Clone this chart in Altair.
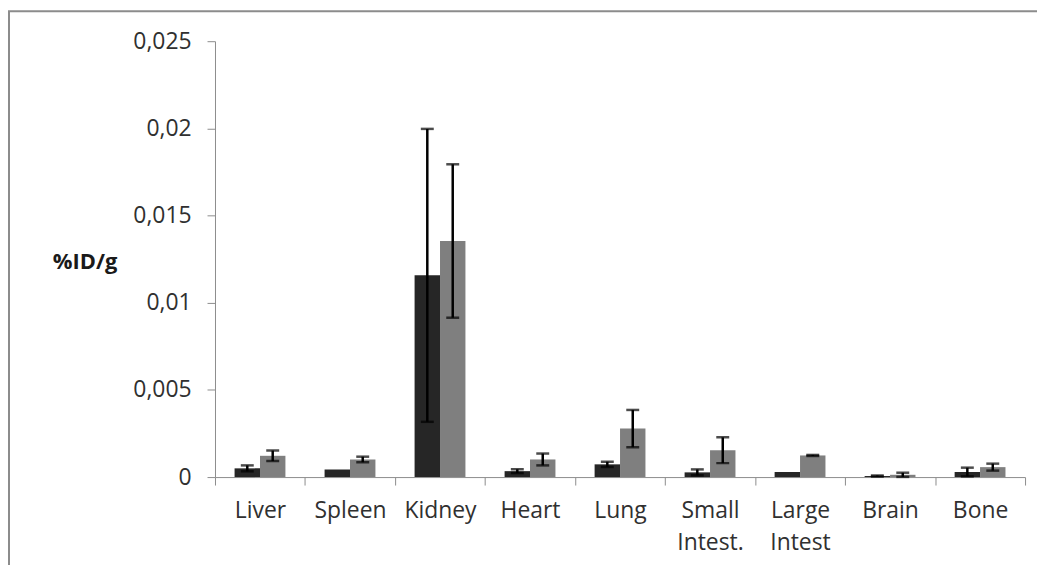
import altair as alt
import pandas as pd

organs = ["Liver", "Spleen", "Kidney", "Heart", "Lung", "Small Intest.", "Large Intest", "Brain", "Bone"]
series = ["Series 1", "Series 2"]
dark_vals = [0.00050, 0.00044, 0.01157, 0.00034, 0.00073, 0.00027, 0.00029, 0.00006, 0.00029]
dark_err = [0.00017, 0.0, 0.00840, 0.00011, 0.00015, 0.00017, 0.0, 0.00003, 0.00025]
gray_vals = [0.00122, 0.00101, 0.01354, 0.00101, 0.00278, 0.00154, 0.00124, 0.00013, 0.00057]
gray_err = [0.00030, 0.00016, 0.00440, 0.00034, 0.00107, 0.00074, 0.00003, 0.00012, 0.00020]
y_ticks = [0, 0.005, 0.01, 0.015, 0.02, 0.025]

rows = []
for i, o in enumerate(organs):
    rows.append({"organ": o, "series": series[0], "value": dark_vals[i], "err": dark_err[i]})
    rows.append({"organ": o, "series": series[1], "value": gray_vals[i], "err": gray_err[i]})
df = pd.DataFrame(rows)
df["lo"] = df["value"] - df["err"]
df["hi"] = df["value"] + df["err"]

FONT = "Open Sans"

x_enc = alt.X(
    "organ:N", sort=organs, title=None,
    scale=alt.Scale(paddingInner=0, paddingOuter=0),
    axis=alt.Axis(
        labelAngle=0, tickBand="extent", tickSize=8, tickColor="#8c8c8c",
        domainColor="#8c8c8c", labelFont=FONT, labelFontSize=23, labelColor="#303030",
        labelPadding=15, labelLineHeight=32, labelExpr="split(datum.label, ' ')",
        grid=False,
    ),
)
xoff = alt.XOffset("series:N", sort=series, scale=alt.Scale(paddingInner=0, paddingOuter=0.77))
y_scale = alt.Scale(domain=[0, 0.025], nice=False)

base = alt.Chart(df)

bars = base.mark_bar().encode(
    x=x_enc,
    xOffset=xoff,
    y=alt.Y(
        "value:Q", scale=y_scale, title="%ID/g",
        axis=alt.Axis(
            values=y_ticks, tickSize=8, tickColor="#8c8c8c", domainColor="#8c8c8c",
            labelFont=FONT, labelFontSize=23, labelColor="#303030", labelPadding=16,
            labelExpr="replace(toString(datum.value), '.', ',')", grid=False,
            titleAngle=0, titleX=-131, titleY=221, titleAlign="center", titleBaseline="middle",
            titleFont=FONT, titleFontSize=22, titleFontWeight="bold", titleColor="#1a1a1a",
        ),
    ),
    color=alt.Color("series:N", sort=series,
                    scale=alt.Scale(domain=series, range=["#262626", "#7f7f7f"]), legend=None),
)

err_base = base.transform_filter("datum.err > 0")
rules = err_base.mark_rule(color="black", strokeWidth=2.5).encode(
    x=alt.X("organ:N", sort=organs), xOffset=xoff,
    y=alt.Y("lo:Q", scale=y_scale), y2="hi:Q",
)
cap_hi = err_base.mark_tick(color="black", thickness=2.5, size=13, orient="horizontal").encode(
    x=alt.X("organ:N", sort=organs), xOffset=xoff, y=alt.Y("hi:Q", scale=y_scale),
)
cap_lo = err_base.mark_tick(color="black", thickness=2.5, size=13, orient="horizontal").encode(
    x=alt.X("organ:N", sort=organs), xOffset=xoff, y=alt.Y("lo:Q", scale=y_scale),
)

frame = alt.Chart(pd.DataFrame({"a": [0]})).mark_rect(
    fill=None, stroke="#8c8c8c", strokeWidth=2
).encode(x=alt.value(-207), x2=alt.value(1000), y=alt.value(-30), y2=alt.value(700))

chart = alt.layer(frame, bars, rules, cap_hi, cap_lo).properties(
    width=814, height=438,
    autosize=alt.AutoSizeParams(type="none"),
    padding={"left": 208, "top": 32, "right": 12, "bottom": 87},
).configure_view(stroke=None)

chart.save("out.html", embed_options={"renderer": "svg", "actions": False})
